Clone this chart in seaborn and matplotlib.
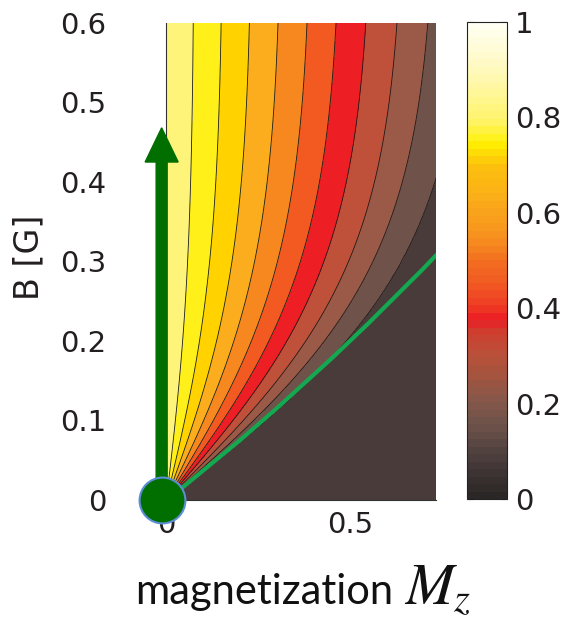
import numpy as np
import matplotlib
matplotlib.use("Agg")
import matplotlib.pyplot as plt
import seaborn as sns
import pandas as pd
from matplotlib.colors import LinearSegmentedColormap, ListedColormap, Normalize
from matplotlib.cm import ScalarMappable
from matplotlib.patches import FancyArrow

# ---------------- data ----------------
# contour levels and the Mz where each level crosses the top edge (B = 0.6)
levels = [0.0, 0.1, 0.2, 0.3, 0.4, 0.5, 0.6, 0.7, 0.8, 0.9]
mz_at_top = [0.81, 0.712, 0.628, 0.543, 0.462, 0.383, 0.304, 0.226, 0.149, 0.073]
b_top = 0.6
b_scale = 0.3          # field scale over which contour lines fan out from origin
mz_max = 0.735

# fill colour of each band (lowest band first)
band_colors = ['#483b39', '#6f5249', '#9a5a47', '#bf513a', '#ee1e25', '#f25a22',
               '#f7881f', '#fcad1d', '#ffd200', '#fff01a', '#fff47a']

# green overlay curve
green_mz = [0.0, 0.05, 0.1, 0.15, 0.2, 0.25, 0.3, 0.35, 0.4, 0.45, 0.5,
            0.55, 0.6, 0.65, 0.7, 0.735]
green_b = [0.0, 0.018, 0.037, 0.056, 0.075, 0.095, 0.115, 0.136, 0.157, 0.178,
           0.200, 0.222, 0.245, 0.268, 0.291, 0.308]

# arrow / dot
arrow_x = -0.013
arrow_top = 0.468
dot_x = -0.012

# colorbar colour stops
cbar_pos = [0.0, 0.05, 0.1, 0.15, 0.2, 0.25, 0.3, 0.35, 0.375, 0.4, 0.45, 0.5,
            0.55, 0.6, 0.65, 0.7, 0.75, 0.8, 0.9, 1.0]
cbar_col = ['#2b2726', '#3d3433', '#554441', '#6e5349', '#87574a', '#a2543f',
            '#b9503a', '#d03c2e', '#ec1c24', '#ee3a24', '#f15a22', '#f36f21',
            '#f7901e', '#f9a11b', '#fbb316', '#fdc00e', '#fff100', '#fff36a',
            '#fff9b8', '#fffff2']
cbar_ticks = [0, 0.2, 0.4, 0.6, 0.8, 1]
cbar_labels = ['0', '0.2', '0.4', '0.6', '0.8', '1']
x_ticks = [0, 0.5]
x_labels = ['0', '0.5']
y_ticks = [0, 0.1, 0.2, 0.3, 0.4, 0.5, 0.6]
y_labels = ['0', '0.1', '0.2', '0.3', '0.4', '0.5', '0.6']

# ---------------- figure ----------------
sns.set_theme(style="white")
plt.rcParams['font.family'] = ['DejaVu Sans']

fig = plt.figure(figsize=(5.68, 6.18), dpi=100)
ax = fig.add_axes([0.293, 0.191, 0.475, 0.772])

mz = np.linspace(0, mz_max, 600)
bb = np.linspace(1e-4, b_top, 600)
MZ, BB = np.meshgrid(mz, bb)
U = MZ * np.tanh(b_top / b_scale) / np.tanh(BB / b_scale)
xp = [0.0] + mz_at_top[::-1] + [10.0]
fp = [1.0] + levels[::-1] + [-1.0]
F = np.interp(U.ravel(), xp, fp).reshape(U.shape)

ax.contourf(MZ, BB, F, levels=[-1.0] + levels + [1.0], colors=band_colors)
ax.contour(MZ, BB, F, levels=levels, colors='#1a1a1a', linewidths=0.6)

df = pd.DataFrame({'mz': green_mz, 'b': green_b})
sns.lineplot(data=df, x='mz', y='b', ax=ax, color='#14a850', lw=3.0,
             sort=False, estimator=None, zorder=5)

ax.set_xlim(0, mz_max)
ax.set_ylim(0, b_top)
ax.set_xticks(x_ticks)
ax.set_xticklabels(x_labels)
ax.set_yticks(y_ticks)
ax.set_yticklabels(y_labels)
ax.set_xlabel('')
ax.set_ylabel('')
for s in ['top', 'right']:
    ax.spines[s].set_visible(False)
for s in ['left', 'bottom']:
    ax.spines[s].set_color('#333333')
    ax.spines[s].set_linewidth(0.8)
ax.tick_params(axis='both', direction='in', length=4, width=0.8, color='#444444',
               labelsize=21, labelcolor='#231f20')
ax.tick_params(axis='y', pad=43)
ax.tick_params(axis='x', pad=8)

arr = FancyArrow(arrow_x, 0.0, 0.0, arrow_top, width=0.030, head_width=0.090,
                 head_length=0.043, length_includes_head=True,
                 color='#006f00', clip_on=False, zorder=10)
ax.add_patch(arr)
ax.plot([dot_x], [0.0], marker='o', markersize=33, markerfacecolor='#006f00',
        markeredgecolor='#5b8ed6', markeredgewidth=1.5, clip_on=False, zorder=11)

# colorbar
cax = fig.add_axes([0.822, 0.1926, 0.070, 0.7718])
base = LinearSegmentedColormap.from_list('hotbrown', list(zip(cbar_pos, cbar_col)))
cmap = ListedColormap(base(np.linspace(0, 1, 64)))
cb = fig.colorbar(ScalarMappable(norm=Normalize(0, 1), cmap=cmap), cax=cax)
cb.set_ticks(cbar_ticks)
cb.set_ticklabels(cbar_labels)
cb.outline.set_linewidth(0.8)
cb.outline.set_edgecolor('#222222')
cax.tick_params(direction='in', length=4, width=0.8, color='#444444',
                left=True, right=True, labelsize=21, labelcolor='#231f20', pad=6)

fig.text(29 / 568, 1 - 257 / 618, 'B [G]', rotation=90, ha='center', va='center',
         fontsize=24, color='#231f20')
fig.text(135 / 568, 1 - 604 / 618, 'magnetization', ha='left', va='baseline',
         fontsize=30, family='Lato', color='#111111')
fig.text(404 / 568, 1 - 604 / 618, r'$M_z$', ha='left', va='baseline',
         fontsize=42, math_fontfamily='stix', color='#111111')

fig.savefig('out.png', dpi=100)
